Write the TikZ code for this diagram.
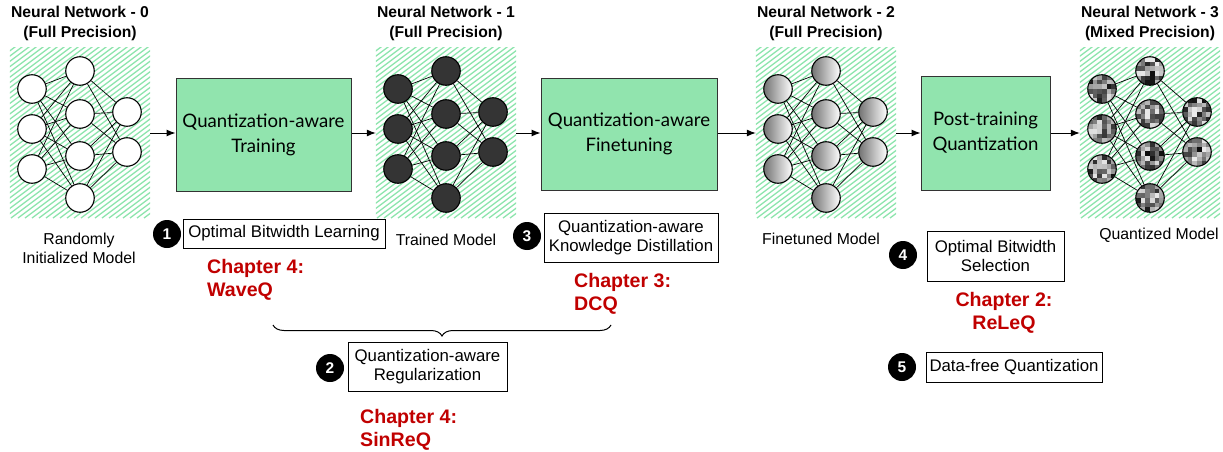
\documentclass[tikz,border=0pt]{standalone}
\usepackage{fontspec}
\setmainfont{Liberation Sans}
\newfontfamily\boxfont{Lato}
\usetikzlibrary{decorations.pathreplacing,arrows.meta}

\pgfdeclarelayer{hatch}
\pgfdeclarelayer{wires}
\pgfsetlayers{hatch,wires,main}

\definecolor{hatchgreen}{RGB}{140,228,172}
\definecolor{boxgreen}{RGB}{145,228,174}
\definecolor{chapred}{RGB}{192,0,0}
\definecolor{darknode}{RGB}{52,52,52}

\tikzset{
  neuron/.style={circle, draw=black, line width=1.1pt, minimum size=28.5pt, inner sep=0pt},
  plainneuron/.style={neuron, fill=white},
  darkneuron/.style={neuron, fill=darknode},
  shadeneuron/.style={neuron, left color=black!55, right color=white},
  pixneuron/.style={neuron},
  wire/.style={black, line width=0.7pt},
  hatchline/.style={hatchgreen, line width=1.3pt},
  flow/.style={-{Latex[length=9pt,width=7pt]}, line width=1pt},
  stagebox/.style={draw=black!80, line width=1pt, fill=boxgreen, inner sep=0pt,
    font=\boxfont\fontsize{18.6}{25}\selectfont, align=center},
  notebox/.style={draw=black, line width=1pt, inner sep=0pt,
    font=\fontsize{16.8}{19.5}\selectfont, align=center},
  badge/.style={circle, fill=black, minimum size=28pt, inner sep=0pt, text=white,
    font=\bfseries\fontsize{15.5}{15.5}\selectfont},
  chapter/.style={text=chapred, inner sep=0pt, font=\bfseries\fontsize{19.6}{23}\selectfont},
  title/.style={align=center, font=\bfseries\fontsize{15.7}{20}\selectfont},
  caption/.style={align=center, font=\fontsize{15.8}{19}\selectfont},
}

% #1 = horizontal offset, #2 = name prefix, #3 = neuron style
\newcommand\drawnet[3]{%
  \node[minimum width=140pt, minimum height=170pt, inner sep=0pt] (#2) at ({#1+80},133) {};
  \begin{pgfonlayer}{hatch}
    \begin{scope}
      \clip (#2.north west) rectangle (#2.south east);
      \foreach \k in {0,...,54}
        \draw[hatchline] ({#1+10-230+7*\k},218) -- ++(230,-172.5);
    \end{scope}
  \end{pgfonlayer}
  \node[#3] (#2-a1) at ({#1+32},89) {};
  \node[#3] (#2-a2) at ({#1+32},129) {};
  \node[#3] (#2-a3) at ({#1+32},169) {};
  \node[#3] (#2-b1) at ({#1+80},71) {};
  \node[#3] (#2-b2) at ({#1+80},114) {};
  \node[#3] (#2-b3) at ({#1+80},156) {};
  \node[#3] (#2-b4) at ({#1+80},198) {};
  \node[#3] (#2-c1) at ({#1+127},112) {};
  \node[#3] (#2-c2) at ({#1+127},152) {};
  \begin{pgfonlayer}{wires}
    \foreach \i in {1,2,3}
      \foreach \j in {1,...,4}
        \draw[wire] (#2-a\i) -- (#2-b\j);
    \foreach \j in {1,...,4}
      \foreach \k in {1,2}
        \draw[wire] (#2-b\j) -- (#2-c\k);
  \end{pgfonlayer}
}

\begin{document}
\begin{tikzpicture}[x=1pt, y=-1pt]
\useasboundingbox (0,0) rectangle (1223,452);
\pgfmathsetseed{11}

% ---- four networks ----
\drawnet{0}{net0}{plainneuron}
\drawnet{366}{net1}{darkneuron}
\drawnet{746}{net2}{shadeneuron}
\drawnet{1070}{net3}{pixneuron}

% mixed-precision weights: a grid of grey pixels inside every neuron of the last net
\begin{pgfonlayer}{wires}
  \foreach \n in {a1,a2,a3,b1,b2,b3,b4,c1,c2} {
    \begin{scope}
      \clip (net3-\n.center) circle (14pt);
      \foreach \u in {0,...,5}
        \foreach \v in {0,...,5} {
          \pgfmathtruncatemacro\g{8+88*rnd}
          \fill[black!\g] ([shift={(-14+\u*4.667,-14+\v*4.667)}]net3-\n.center)
            rectangle ++(4.7,4.7);
        }
    \end{scope}
  }
\end{pgfonlayer}

% ---- titles and captions ----
\node[title] (t0) at (80,23) {Neural Network - 0\\(Full Precision)};
\node[title] (t1) at (446,23) {Neural Network - 1\\(Full Precision)};
\node[title] (t2) at (826,23) {Neural Network - 2\\(Full Precision)};
\node[title] (t3) at (1150,23) {Neural Network - 3\\(Mixed Precision)};

\node[caption] (cap0) at (79,248.5) {Randomly\\Initialized Model};
\node[caption] (cap1) at (446,240) {Trained Model};
\node[caption] (cap2) at (821,239) {Finetuned Model};
\node[caption] (cap3) at (1159,235) {Quantized Model};

% ---- stages ----
\node[stagebox, minimum width=175pt, minimum height=113pt] (qat) at (263.5,134.5)
  {Quantization-aware\\Training};
\node[stagebox, minimum width=176pt, minimum height=112pt] (qaf) at (629,134)
  {Quantization-aware\\Finetuning};
\node[stagebox, minimum width=129pt, minimum height=114pt] (ptq) at (985.5,133)
  {Post-training\\Quantization};

\draw[flow] (net0.east) -- (net0.east -| qat.west);
\draw[flow] (net0.east -| qat.east) -- (net1.west);
\draw[flow] (net1.east) -- (net1.east -| qaf.west);
\draw[flow] (net1.east -| qaf.east) -- (net2.west);
\draw[flow] (net2.east) -- (net2.east -| ptq.west);
\draw[flow] (net2.east -| ptq.east) -- (net3.west);

% ---- techniques ----
\node[badge] (k1) at (167,234) {1};
\node[notebox, minimum width=202pt, minimum height=29pt] (obl) at (284,233.5)
  {Optimal Bitwidth Learning};
\node[chapter, anchor=west, align=left] (ch4a) at (207,280) {Chapter 4:\\WaveQ};

\node[badge] (k3) at (527,236) {3};
\node[notebox, minimum width=174pt, minimum height=49pt] (qkd) at (631,237.5)
  {Quantization-aware\\Knowledge Distillation};
\node[chapter, anchor=west, align=left] (ch3) at (574,294) {Chapter 3:\\DCQ};

\node[badge] (k4) at (903,255) {4};
\node[notebox, minimum width=137pt, minimum height=50pt] (obs) at (995.5,256)
  {Optimal Bitwidth\\Selection};
\node[chapter, align=center] (ch2) at (1004,313) {Chapter 2:\\ReLeQ};

\node[badge] (k5) at (902,367) {5};
\node[notebox, minimum width=176pt, minimum height=30pt] (dfq) at (1014,367)
  {Data-free Quantization};

\coordinate (braceL) at (273,325);
\coordinate (braceR) at (611,325);
\draw[line width=1pt, decorate, decoration={brace, mirror, amplitude=11pt}]
  (braceL) -- (braceR);

\node[badge] (k2) at (330,368) {2};
\node[notebox, minimum width=159pt, minimum height=49pt] (qar) at (427.5,366.5)
  {Quantization-aware\\Regularization};
\node[chapter, anchor=west, align=left] (ch4b) at (360,430) {Chapter 4:\\SinReQ};
\end{tikzpicture}
\end{document}
